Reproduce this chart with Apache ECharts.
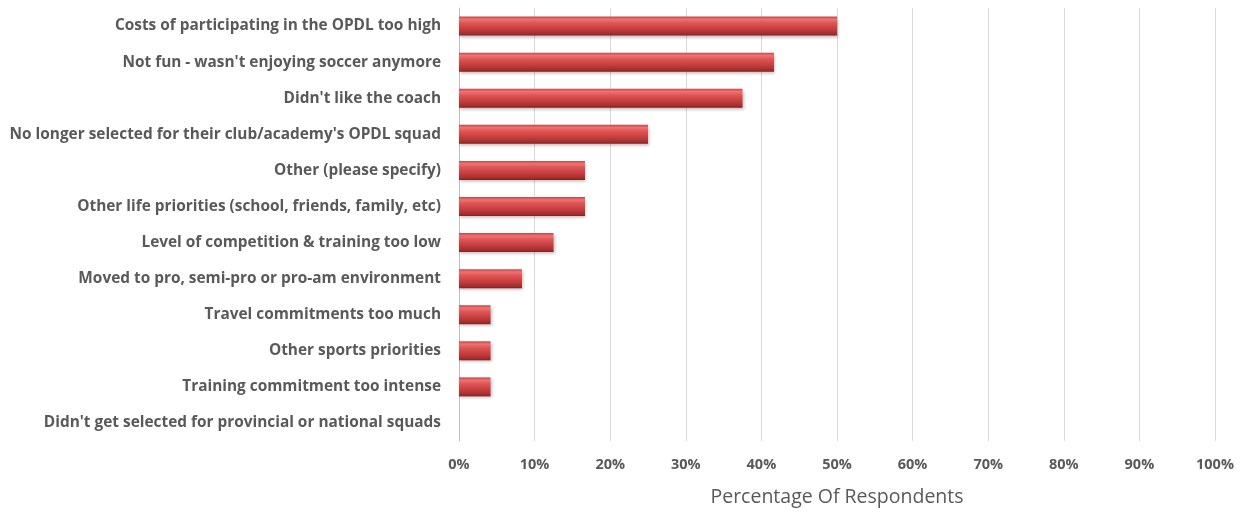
<!DOCTYPE html>
<html><head><meta charset="utf-8">
<script src="https://cdn.jsdelivr.net/npm/echarts@6/dist/echarts.min.js"></script>
<style>html,body{margin:0;padding:0;background:#fff}#c{width:1251px;height:512px}</style>
</head><body><div id="c"></div>
<script>
const categories = [
  "Costs of participating in the OPDL too high",
  "Not fun - wasn't enjoying soccer anymore",
  "Didn't like the coach",
  "No longer selected for their club/academy's OPDL squad",
  "Other (please specify)",
  "Other life priorities (school, friends, family, etc)",
  "Level of competition & training too low",
  "Moved to pro, semi-pro or pro-am environment",
  "Travel commitments too much",
  "Other sports priorities",
  "Training commitment too intense",
  "Didn't get selected for provincial or national squads"
];
const values = [50, 41.67, 37.5, 25, 16.67, 16.67, 12.5, 8.33, 4.17, 4.17, 4.17, 0];
const axisTitle = "Percentage Of Respondents";

const chart = echarts.init(document.getElementById('c'), null, {renderer: 'canvas'});
chart.setOption({
  animation: false,
  grid: {left: 459, width: 756, top: 8, height: 437, containLabel: false},
  xAxis: {
    type: 'value', min: 0, max: 100, interval: 10,
    name: axisTitle, nameLocation: 'middle', nameGap: 46,
    nameTextStyle: {fontFamily: 'Open Sans', fontSize: 19.5, color: '#595959'},
    axisLine: {show: false},
    axisTick: {show: false},
    axisLabel: {formatter: '{value}%', fontFamily: 'Open Sans', fontWeight: 'bold', fontSize: 14.5, color: '#595959', margin: 16},
    splitLine: {show: true, lineStyle: {color: '#d9d9d9', width: 1}}
  },
  yAxis: {
    type: 'category', data: categories, inverse: true,
    axisLine: {show: true, lineStyle: {color: '#bfbfbf', width: 1}},
    axisTick: {show: false},
    axisLabel: {fontFamily: 'Open Sans', fontWeight: 'bold', fontSize: 15.4, color: '#595959', margin: 18}
  },
  series: [{
    type: 'bar', data: values, barWidth: 19,
    itemStyle: {
      color: new echarts.graphic.LinearGradient(0, 0, 0, 1, [
        {offset: 0, color: '#c84444'},
        {offset: 0.15, color: '#f07272'},
        {offset: 0.35, color: '#de5454'},
        {offset: 0.7, color: '#c03b3b'},
        {offset: 0.9, color: '#a32e2e'},
        {offset: 1, color: '#7e2222'}
      ]),
      shadowColor: 'rgba(0,0,0,0.25)', shadowBlur: 3, shadowOffsetX: 1, shadowOffsetY: 2
    }
  }]
});
</script></body></html>
